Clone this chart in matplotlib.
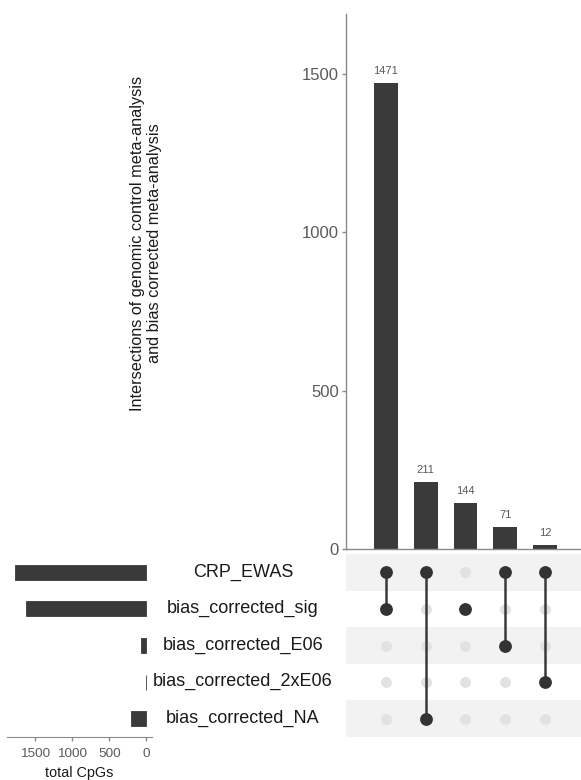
import numpy as np
import matplotlib
matplotlib.use('Agg')
import matplotlib.pyplot as plt

plt.rcParams['font.family'] = ['Liberation Sans', 'DejaVu Sans']

# sets, their total sizes and the intersections shown as bars
set_names = ['CRP_EWAS', 'bias_corrected_sig', 'bias_corrected_E06',
             'bias_corrected_2xE06', 'bias_corrected_NA']
set_sizes = [1765, 1615, 71, 12, 211]
inter_counts = [1471, 211, 144, 71, 12]
# members of each intersection, as set indices
inter_members = [[0, 1], [0, 4], [1], [0, 2], [0, 3]]

W, H = 581, 780
bar_col = '#3a3a3a'
txt_col = '#5a5a5a'
axis_col = '#8a8a8a'

def box(l, t, r, b):
    return [l / W, 1 - b / H, (r - l) / W, (b - t) / H]

fig = plt.figure(figsize=(W / 100, H / 100), dpi=100)
ax_bar = fig.add_axes(box(346, 14, 581, 549))
ax_mat = fig.add_axes(box(346, 554, 581, 737))
ax_set = fig.add_axes(box(7, 554, 152, 737))

xs = np.arange(len(inter_counts))
xlim = (-0.99, 4.89)

# intersection size bars
ax_bar.bar(xs, inter_counts, width=0.6, color=bar_col)
for x, v in zip(xs, inter_counts):
    ax_bar.annotate(str(v), (x, v), xytext=(0, 5), textcoords='offset points',
                    ha='center', va='bottom', fontsize=8, color=txt_col)
ax_bar.set_xlim(*xlim)
ax_bar.set_ylim(0, 1690)
ax_bar.set_yticks([0, 500, 1000, 1500])
ax_bar.set_xticks([])
for s in ['top', 'right']:
    ax_bar.spines[s].set_visible(False)
for s in ['left', 'bottom']:
    ax_bar.spines[s].set_color(axis_col)
    ax_bar.spines[s].set_linewidth(1.0)
ax_bar.tick_params(axis='y', labelsize=12, colors=axis_col, labelcolor=txt_col,
                   length=3, width=1, pad=2)
fig.text(146 / W, 1 - 243 / H,
         'Intersections of genomic control meta-analysis\nand bias corrected meta-analysis',
         rotation=90, ha='center', va='center', fontsize=11.7, color='#1a1a1a',
         multialignment='center', linespacing=1.15)

# matrix of set membership
n = len(set_names)
for r in range(0, n, 2):
    ax_mat.axhspan(r - 0.5, r + 0.5, color='#f2f2f2', lw=0)
gx, gy = np.meshgrid(xs, np.arange(n))
ax_mat.scatter(gx.ravel(), gy.ravel(), s=62, color='#e2e2e2', lw=0, zorder=2)
for x, mem in zip(xs, inter_members):
    if len(mem) > 1:
        ax_mat.plot([x, x], [min(mem), max(mem)], color=bar_col, lw=1.8, zorder=3)
    ax_mat.scatter([x] * len(mem), mem, s=85, color='#333333', lw=0, zorder=4)
ax_mat.set_xlim(*xlim)
ax_mat.set_ylim(n - 0.5, -0.5)
ax_mat.axis('off')

# set size bars
ys = np.arange(n)
ax_set.barh(ys, set_sizes, height=0.41, color=bar_col, edgecolor=bar_col, lw=0.6)
ax_set.set_xlim(1875, -74)
ax_set.set_ylim(n - 0.5, -0.5)
ax_set.set_xticks([1500, 1000, 500, 0])
ax_set.set_yticks([])
for s in ['top', 'right', 'left']:
    ax_set.spines[s].set_visible(False)
ax_set.spines['bottom'].set_color(axis_col)
ax_set.tick_params(axis='x', labelsize=9.7, colors=axis_col, labelcolor=txt_col,
                   length=3, width=1, pad=5)
ax_set.set_xlabel('total CpGs', fontsize=10.4, color='#1a1a1a', labelpad=4)

for y, name in zip(ys, set_names):
    fig.text(243 / W, 1 - (572 + 36.6 * y) / H, name, ha='center', va='center',
             fontsize=13, color='#1a1a1a')

fig.savefig('out.png', dpi=100)
